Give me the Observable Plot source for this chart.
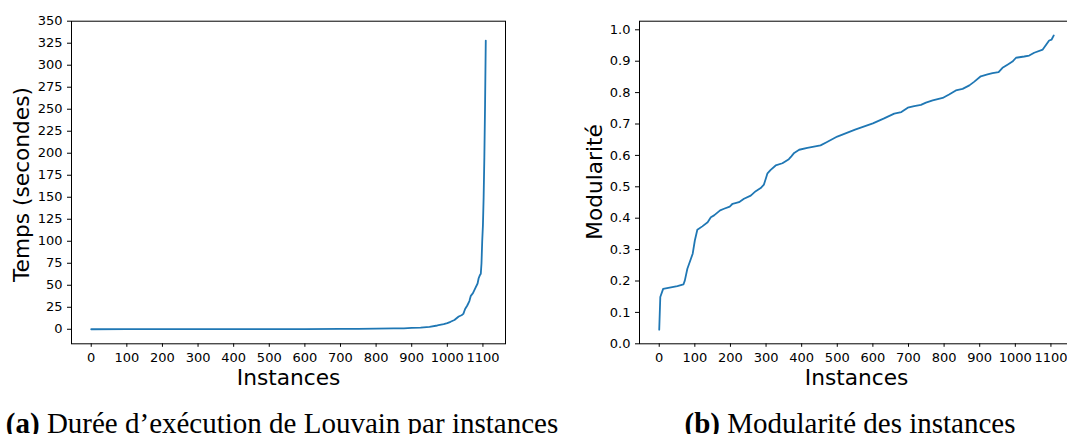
<!DOCTYPE html>
<html>
<head>
<meta charset="utf-8">
<script src="https://cdn.jsdelivr.net/npm/d3@7"></script>
<script src="https://cdn.jsdelivr.net/npm/@observablehq/plot@0.6"></script>
<style>
  html, body { margin: 0; padding: 0; background: #fff; }
  #fig { position: relative; width: 1067px; height: 434px; overflow: hidden; background: #fff; }
  #fig .panel { position: absolute; top: 0; width: 568px; height: 400px; }
  #fig .panel svg { max-width: none !important; width: 568px; height: 400px; display: block; }
  #fig .caption { position: absolute; top: 408.7px; height: 40px; line-height: 29px; font-family: "Liberation Serif", "Times New Roman", serif; font-size: 29px; color: #000; white-space: nowrap; text-align: center; }
</style>
</head>
<body>
<div id="fig">
  <div class="panel" id="left" style="left:0px"></div>
  <div class="panel" id="right" style="left:568px"></div>
  <div class="caption" style="left:0px;width:564px"><b>(a)</b> Durée d’exécution de Louvain par instances</div>
  <div class="caption" style="left:568px;width:564px"><b>(b)</b> Modularité des instances</div>
</div>
<script>
// ---- data ----
const xTicks = [0, 100, 200, 300, 400, 500, 600, 700, 800, 900, 1000, 1100];
const timeTicks = [0, 25, 50, 75, 100, 125, 150, 175, 200, 225, 250, 275, 300, 325, 350];
const modTicks = [0, 0.1, 0.2, 0.3, 0.4, 0.5, 0.6, 0.7, 0.8, 0.9, 1.0];

// (a) execution time (seconds), sorted instances
const timeX = [0, 100, 200, 300, 400, 500, 600, 700, 750, 800, 850, 878, 900, 925, 950, 972, 990, 1000, 1009, 1020, 1032, 1040, 1045, 1050, 1056, 1062, 1066, 1072, 1079, 1085, 1088, 1091, 1094, 1096, 1098, 1100, 1102, 1104, 1106, 1108];
const timeY = [0.05, 0.07, 0.09, 0.11, 0.14, 0.18, 0.24, 0.35, 0.5, 0.8, 1.0, 1.1, 1.5, 1.9, 2.8, 4.3, 5.8, 7.0, 8.5, 10.5, 14.5, 16.0, 17.5, 23, 27, 32, 38, 41, 47, 52, 58, 61, 63, 75, 100, 118, 150, 195, 255, 328];

// (b) modularity, sorted instances
const modX = [0, 3, 11, 51, 68, 72, 79, 89, 94, 100, 107, 121, 136, 145, 154, 171, 182, 198, 206, 224, 238, 257, 271, 285, 294, 299, 304, 313, 327, 346, 364, 371, 379, 393, 416, 453, 470, 500, 550, 600, 630, 660, 680, 698, 716, 735, 749, 768, 796, 814, 833, 852, 871, 885, 903, 922, 936, 953, 964, 978, 992, 1002, 1025, 1039, 1053, 1077, 1088, 1095, 1102, 1108];
const modY = [0.045, 0.149, 0.175, 0.184, 0.189, 0.202, 0.239, 0.271, 0.287, 0.329, 0.363, 0.374, 0.387, 0.403, 0.409, 0.425, 0.43, 0.437, 0.446, 0.451, 0.462, 0.472, 0.486, 0.496, 0.507, 0.525, 0.543, 0.554, 0.568, 0.575, 0.588, 0.597, 0.608, 0.618, 0.624, 0.632, 0.642, 0.66, 0.682, 0.702, 0.717, 0.733, 0.738, 0.752, 0.757, 0.761, 0.768, 0.775, 0.783, 0.794, 0.807, 0.812, 0.823, 0.835, 0.852, 0.858, 0.862, 0.865, 0.879, 0.889, 0.899, 0.911, 0.915, 0.918, 0.927, 0.937, 0.955, 0.966, 0.969, 0.982];

const xLabel = "Instances";
const timeLabel = "Temps (secondes)";
const modLabel = "Modularité";

// ---- drawing ----
const lineColor = "#1f77b4";
const xDomain = [-55.4, 1163.4];
const tickFont = 13;
const common = {
  width: 568, height: 400,
  marginLeft: 71, marginRight: 63, marginTop: 20.7, marginBottom: 56.7,
  style: { fontFamily: "'DejaVu Sans', sans-serif", fontSize: tickFont + "px", color: "black", background: "transparent" }
};

function panel(xs, ys, yDomain, yTicks, yFmt, yLabel, yLabelDx, yLabelDy) {
  const data = xs.map((x, i) => ({ x, y: ys[i] }));
  return Plot.plot({
    ...common,
    x: { domain: xDomain },
    y: { domain: yDomain },
    marks: [
      Plot.line(data, { x: "x", y: "y", stroke: lineColor, strokeWidth: 1.8 }),
      Plot.frame({ stroke: "black", strokeWidth: 1 }),
      Plot.axisX({ ticks: xTicks, tickSize: 3.5, tickPadding: 5.7, tickFormat: d => String(d), label: null, fontSize: tickFont, fill: "black" }),
      Plot.axisY({ ticks: yTicks, tickSize: 4, tickPadding: 5, tickFormat: yFmt, label: null, fontSize: tickFont, fill: "black" }),
      Plot.text([xLabel], { frameAnchor: "bottom", textAnchor: "middle", lineAnchor: "middle", dy: 34.7, text: d => d, fontSize: 21.7, fill: "black" }),
      Plot.text([yLabel], { frameAnchor: "left", textAnchor: "middle", lineAnchor: "middle", rotate: -90, dx: yLabelDx, dy: yLabelDy, text: d => d, fontSize: 21.7, fill: "black" })
    ]
  });
}

document.getElementById("left").appendChild(
  panel(timeX, timeY, [-16.5, 350], timeTicks, d => String(d), timeLabel, -49.5, 2)
);
document.getElementById("right").appendChild(
  panel(modX, modY, [0, 1.0274], modTicks, d3.format(".1f"), modLabel, -44.4, -0.5)
);
</script>
</body>
</html>
